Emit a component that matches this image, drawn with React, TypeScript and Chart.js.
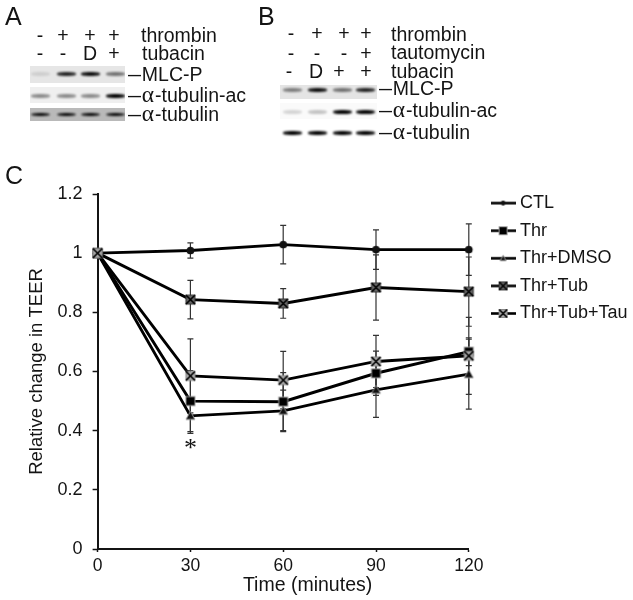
import React, { useEffect, useRef } from "react";
import { Chart, registerables } from "chart.js";

Chart.register(...registerables);

const times = ["0", "30", "60", "90", "120"];
const seriesNames = ["CTL", "Thr", "Thr+DMSO", "Thr+Tub", "Thr+Tub+Tau"];
const ctlValues = [1, 1.009, 1.029, 1.012, 1.012];
const thrValues = [1, 0.5, 0.498, 0.594, 0.667];
const dmsoValues = [1, 0.45, 0.467, 0.538, 0.591];
const tubValues = [1, 0.843, 0.83, 0.884, 0.87];
const tauValues = [1, 0.585, 0.571, 0.634, 0.653];
const ctlErrors = [0, 0.026, 0.065, 0.067, 0.087];
const thrErrors = [0, 0.103, 0.098, 0.075, 0.047];
const dmsoErrors = [0, 0.059, 0.07, 0.093, 0.118];
const tubErrors = [0, 0.065, 0.05, 0.11, 0.117];
const tauErrors = [0, 0.125, 0.097, 0.088, 0.13];
const yTicks = ["0", "0.2", "0.4", "0.6", "0.8", "1", "1.2"];

const FONT = "'Liberation Sans', Arial, sans-serif";
const INK = "#141414";

// band darkness for each lane of each blot strip
const blotA = [
  { bg: "#e6e6e6", darkness: [0.1, 0.85, 0.95, 0.5] },
  { bg: "#efefef", darkness: [0.42, 0.42, 0.42, 1] },
  { bg: "#b9b9b9", darkness: [0.95, 0.95, 0.95, 0.95] },
];
const blotB = [
  { bg: "#e4e4e4", darkness: [0.45, 0.95, 0.5, 0.85] },
  { bg: "#fafafa", darkness: [0.15, 0.22, 1, 1] },
  { bg: "#ffffff", darkness: [1, 1, 1, 1] },
];

type Kind = "circle" | "square" | "triangle" | "boxX" | "boxStar";
const kinds: Kind[] = ["circle", "square", "triangle", "boxX", "boxStar"];

function paintMarker(ctx: CanvasRenderingContext2D, cx: number, cy: number, s: number, kind: Kind) {
  ctx.save();
  if (kind === "circle") {
    ctx.fillStyle = "#111";
    ctx.beginPath();
    ctx.arc(cx, cy, s * 0.8, 0, Math.PI * 2);
    ctx.fill();
  } else if (kind === "square") {
    ctx.fillStyle = "#999";
    ctx.fillRect(cx - s - 0.5, cy - s - 0.5, 2 * s + 1, 2 * s + 1);
    ctx.fillStyle = "#000";
    ctx.fillRect(cx - s + 0.5, cy - s + 0.5, 2 * s - 1, 2 * s - 1);
  } else if (kind === "triangle") {
    ctx.fillStyle = "#111";
    ctx.strokeStyle = "#999";
    ctx.lineWidth = 1;
    ctx.beginPath();
    ctx.moveTo(cx, cy - s);
    ctx.lineTo(cx + s, cy + s * 0.8);
    ctx.lineTo(cx - s, cy + s * 0.8);
    ctx.closePath();
    ctx.fill();
    ctx.stroke();
  } else {
    const star = kind === "boxStar";
    ctx.fillStyle = star ? "#a8a8a8" : "#666";
    ctx.strokeStyle = star ? "#8a8a8a" : "#333";
    ctx.lineWidth = 1;
    ctx.fillRect(cx - s, cy - s, 2 * s, 2 * s);
    ctx.strokeRect(cx - s, cy - s, 2 * s, 2 * s);
    ctx.strokeStyle = "#000";
    ctx.lineWidth = 1.6;
    ctx.beginPath();
    ctx.moveTo(cx - s, cy - s);
    ctx.lineTo(cx + s, cy + s);
    ctx.moveTo(cx + s, cy - s);
    ctx.lineTo(cx - s, cy + s);
    ctx.stroke();
  }
  ctx.restore();
}

function markerImage(kind: Kind) {
  const c = document.createElement("canvas");
  c.width = 15;
  c.height = 15;
  paintMarker(c.getContext("2d")!, 7.5, 7.5, kind === "circle" ? 4.8 : 4.5, kind);
  return c;
}

function legendImage(kind: Kind) {
  const c = document.createElement("canvas");
  c.width = 25;
  c.height = 13;
  const ctx = c.getContext("2d")!;
  ctx.strokeStyle = "#000";
  ctx.lineWidth = 2.6;
  ctx.beginPath();
  ctx.moveTo(0, 6.5);
  ctx.lineTo(25, 6.5);
  ctx.stroke();
  paintMarker(ctx, 12.5, 6.5, kind === "circle" ? 3 : kind === "triangle" ? 3 : 4, kind);
  return c;
}

function Label({ x, y, size = 19.5, children }: { x: number; y: number; size?: number; children: React.ReactNode }) {
  return (
    <span
      style={{
        position: "absolute",
        left: x,
        top: y - size * 0.6,
        fontFamily: FONT,
        fontSize: size,
        lineHeight: `${size * 1.2}px`,
        color: INK,
        whiteSpace: "nowrap",
      }}
    >
      {children}
    </span>
  );
}

function Sign({ x, y, text, size = 19.5 }: { x: number; y: number; text: string; size?: number }) {
  return (
    <span
      style={{
        position: "absolute",
        left: x - 15,
        width: 30,
        textAlign: "center",
        top: y - size * 0.6,
        fontFamily: FONT,
        fontSize: size,
        lineHeight: `${size * 1.2}px`,
        color: INK,
      }}
    >
      {text}
    </span>
  );
}

const Dash = () => (
  <span style={{ display: "inline-block", width: 13.8, transform: "scaleX(1.2)", transformOrigin: "left center" }}>–</span>
);
const Alpha = () => <span style={{ fontFamily: "'Liberation Serif', serif", fontSize: "1.2em", letterSpacing: 1 }}>α</span>;

function Strip({ x, y, w, h, bg, bandY, lanes, darkness, bandW, bandH }: any) {
  return (
    <div style={{ position: "absolute", left: x, top: y, width: w, height: h, background: bg, overflow: "hidden", filter: "blur(0.4px)" }}>
      {lanes.map((lx: number, i: number) => (
        <div
          key={i}
          style={{
            position: "absolute",
            left: lx - x - bandW / 2,
            top: bandY - y - bandH / 2,
            width: bandW,
            height: bandH,
            borderRadius: "40%",
            background: "#000",
            opacity: darkness[i],
            filter: "blur(0.8px)",
          }}
        />
      ))}
    </div>
  );
}

export default function App() {
  const ref = useRef<HTMLCanvasElement>(null);

  useEffect(() => {
    const allValues = [ctlValues, thrValues, dmsoValues, tubValues, tauValues];
    const allErrors = [ctlErrors, thrErrors, dmsoErrors, tubErrors, tauErrors];
    const legendImages = kinds.map(legendImage);

    const errorBars = {
      id: "errorBars",
      beforeDatasetsDraw(chart: any) {
        const ctx = chart.ctx;
        const xs = chart.scales.x;
        const ys = chart.scales.y;
        ctx.save();
        ctx.strokeStyle = "#333";
        ctx.lineWidth = 1.2;
        allValues.forEach((vals, s) => {
          vals.forEach((v, i) => {
            const e = allErrors[s][i];
            if (!e) return;
            const px = xs.getPixelForValue(i);
            const top = ys.getPixelForValue(v + e);
            const bot = ys.getPixelForValue(v - e);
            ctx.beginPath();
            ctx.moveTo(px, top);
            ctx.lineTo(px, bot);
            ctx.moveTo(px - 3, top);
            ctx.lineTo(px + 3, top);
            ctx.moveTo(px - 3, bot);
            ctx.lineTo(px + 3, bot);
            ctx.stroke();
          });
        });
        ctx.restore();
      },
    };

    const legendPlace = {
      id: "legendPlace",
      beforeDraw(chart: any) {
        const l = chart.legend;
        const w = l.width;
        l.left = 485.5;
        l.right = 485.5 + w;
        l.top = 184.5;
      },
    };

    const chart = new Chart(ref.current!, {
      type: "line",
      data: {
        labels: times,
        datasets: seriesNames.map((name, i) => ({
          label: name,
          data: allValues[i],
          borderColor: "#000",
          borderWidth: 2.9,
          tension: 0,
          fill: false,
          pointStyle: markerImage(kinds[i]) as any,
          pointRadius: 5,
          order: seriesNames.length - i,
        })),
      },
      options: {
        animation: false,
        responsive: false,
        layout: { padding: { top: 194, right: 5, left: 0, bottom: 0 } },
        plugins: {
          tooltip: { enabled: false },
          legend: {
            position: "right",
            align: "start",
            labels: {
              usePointStyle: true,
              pointStyleWidth: 16,
              padding: 9.6,
              color: INK,
              font: { family: FONT, size: 18 },
              generateLabels: () =>
                seriesNames.map((name, i) => ({
                  text: name,
                  datasetIndex: i,
                  hidden: false,
                  pointStyle: legendImages[i] as any,
                  fontColor: INK,
                })),
            },
          },
        },
        scales: {
          x: {
            type: "category",
            offset: false,
            afterFit: (s: any) => {
              s.height = 51;
            },
            border: { display: true, width: 2, color: INK },
            grid: { display: true, drawOnChartArea: false, drawTicks: true, tickLength: 3, tickColor: INK, tickWidth: 1.5 },
            ticks: { color: INK, font: { family: FONT, size: 17.5 }, padding: 4, maxRotation: 0 },
            title: {
              display: true,
              text: "         Time (minutes)",
              color: INK,
              font: { family: FONT, size: 19.5 },
              padding: { top: 0, bottom: 3 },
            },
          },
          y: {
            min: 0,
            max: 1.2,
            afterFit: (s: any) => {
              s.width = 97.6;
            },
            border: { display: true, width: 2, color: INK },
            grid: { display: true, drawOnChartArea: false, drawTicks: true, tickLength: 5, tickColor: INK, tickWidth: 1.5 },
            ticks: {
              stepSize: 0.2,
              color: INK,
              padding: 10,
              font: { family: FONT, size: 18 },
              callback: (_v: any, i: number) => yTicks[i],
            },
            title: {
              display: true,
              text: "Relative change in TEER",
              color: INK,
              font: { family: FONT, size: 18.5 },
              padding: { top: 26, bottom: 0 },
            },
          },
        },
      } as any,
      plugins: [errorBars, legendPlace],
    });

    // make the right edge of the plot land where it should, whatever the legend's width is
    const wanted = 468.8;
    const diff = chart.chartArea.right - wanted;
    (chart.options.layout as any).padding.right += diff;
    chart.update();

    return () => chart.destroy();
  }, []);

  const lanesA = [40, 66, 90, 115];
  const lanesB = [292, 317, 342, 365];

  return (
    <div style={{ position: "absolute", left: 0, top: 0, width: 633, height: 600, background: "#fff", overflow: "hidden", filter: "blur(0.35px)" }}>
      <canvas ref={ref} width={633} height={600} style={{ display: "block", position: "absolute", left: 0, top: 0 }} />

      <Label x={5} y={16} size={25}>A</Label>
      <Label x={258} y={16} size={25}>B</Label>
      <Label x={5} y={175} size={25}>C</Label>

      {["-", "+", "+", "+"].map((t, i) => <Sign key={i} x={[40, 63, 90, 114][i]} y={36} text={t} />)}
      {["-", "-", "D", "+"].map((t, i) => <Sign key={i} x={[40, 63, 90, 114][i]} y={54} text={t} />)}
      <Label x={141} y={36}>thrombin</Label>
      <Label x={142} y={54}>tubacin</Label>
      <Strip x={30} y={66} w={95} h={17} bg={blotA[0].bg} bandY={74} lanes={lanesA} darkness={blotA[0].darkness} bandW={19} bandH={3.5} />
      <Strip x={30} y={87} w={95} h={16} bg={blotA[1].bg} bandY={96} lanes={lanesA} darkness={blotA[1].darkness} bandW={19} bandH={3.5} />
      <Strip x={30} y={108} w={95} h={13} bg={blotA[2].bg} bandY={114.5} lanes={lanesA} darkness={blotA[2].darkness} bandW={19} bandH={3.5} />
      <Label x={128} y={75}><Dash />MLC-P</Label>
      <Label x={128} y={95}><Dash /><Alpha />-tubulin-ac</Label>
      <Label x={128} y={114}><Dash /><Alpha />-tubulin</Label>

      {["-", "+", "+", "+"].map((t, i) => <Sign key={i} x={[291, 317, 344, 366][i]} y={34} text={t} />)}
      {["-", "-", "-", "+"].map((t, i) => <Sign key={i} x={[291, 317, 344, 366][i]} y={54} text={t} />)}
      {["-", "D", "+", "+"].map((t, i) => <Sign key={i} x={[289, 316, 339, 366][i]} y={72} text={t} />)}
      <Label x={391} y={35}>thrombin</Label>
      <Label x={391} y={53}>tautomycin</Label>
      <Label x={391} y={72}>tubacin</Label>
      <Strip x={280} y={85} w={97} h={14} bg={blotB[0].bg} bandY={90} lanes={lanesB} darkness={blotB[0].darkness} bandW={19} bandH={3.5} />
      <Strip x={280} y={103} w={97} h={16} bg={blotB[1].bg} bandY={112} lanes={lanesB} darkness={blotB[1].darkness} bandW={19} bandH={4.5} />
      <Strip x={280} y={125} w={97} h={16} bg={blotB[2].bg} bandY={133} lanes={lanesB} darkness={blotB[2].darkness} bandW={19} bandH={3.5} />
      <Label x={379} y={89}><Dash />MLC-P</Label>
      <Label x={379} y={110}><Dash /><Alpha />-tubulin-ac</Label>
      <Label x={379} y={132}><Dash /><Alpha />-tubulin</Label>

      <span style={{ position: "absolute", left: 184, top: 433, fontFamily: "'Liberation Serif', serif", fontSize: 26, lineHeight: "30px", color: INK }}>*</span>
    </div>
  );
}
